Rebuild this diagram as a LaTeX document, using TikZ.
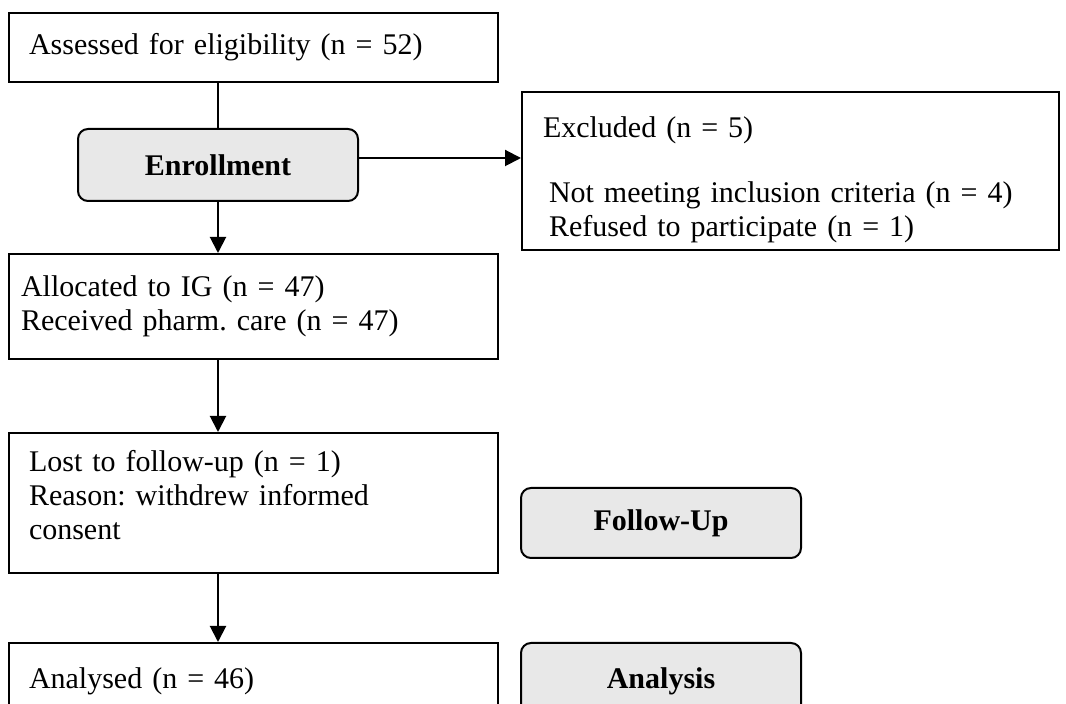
\documentclass[tikz,border=0pt]{standalone}
\usepackage{fontspec}
\setmainfont{Liberation Serif}
\usetikzlibrary{arrows.meta,calc}
\frenchspacing
\begin{document}
\begin{tikzpicture}[x=0.5pt,y=-0.5pt,
  every node/.style={font=\fontsize{15}{16.8}\selectfont},
  box/.style={draw, line width=1pt, anchor=north west, align=left, inner ysep=0pt},
  stage/.style={draw, line width=1pt, anchor=north west, fill=black!9, rounded corners=5pt,
     align=center, inner sep=0pt, minimum width=140pt, font=\fontsize{15}{16.8}\selectfont\bfseries},
  conn/.style={line width=1pt},
  arr/.style={line width=1pt, -{Triangle[length=8pt,width=8pt]}}]
\useasboundingbox (0,0) rectangle (1066,704);
\clip (0,0) rectangle (1066,704);
\fill[white] (0,0) rectangle (1066,704);
\coordinate (cx) at (218,0);
\coordinate (ay) at (0,158);
% boxes
\node[box, inner xsep=10pt, text width=224.5pt, minimum height=34.5pt] (assess) at (8,12)
  {Assessed for eligibility (n = 52)};
\node[stage, minimum height=36pt] (enroll) at (77,128) {Enrollment};
\node[box, inner xsep=10.5pt, text width=247.5pt, minimum height=79pt] (excl) at (521,91)
  {\rule{0pt}{19pt}Excluded (n = 5)\\[16pt]\hspace*{3pt}Not meeting inclusion criteria (n = 4)\\\hspace*{3pt}Refused to participate (n = 1)};
\node[box, inner xsep=6pt, text width=232.5pt, minimum height=52.5pt] (alloc) at (8,253)
  {Allocated to IG (n = 47)\\Received pharm. care (n = 47)};
\node[box, inner xsep=10pt, text width=224.5pt, minimum height=70pt] (lost) at (8,432)
  {Lost to follow-up (n = 1)\\Reason: withdrew informed\\consent\rule[-8pt]{0pt}{1pt}};
\node[stage, minimum height=35pt] (follow) at (520,487) {Follow-Up};
\node[box, inner xsep=10pt, text width=224.5pt, minimum height=38pt] (anal) at (8,642)
  {Analysed (n = 46)};
\node[stage, minimum height=38pt] (analysis) at (520,642) {Analysis};
% connectors
\draw[conn] (assess.south -| cx) -- (enroll.north -| cx);
\draw[arr] (enroll.south -| cx) -- (alloc.north -| cx);
\draw[arr] (enroll.east |- ay) -- (excl.west |- ay);
\draw[arr] (alloc.south -| cx) -- (lost.north -| cx);
\draw[arr] (lost.south -| cx) -- (anal.north -| cx);
\end{tikzpicture}
\end{document}
